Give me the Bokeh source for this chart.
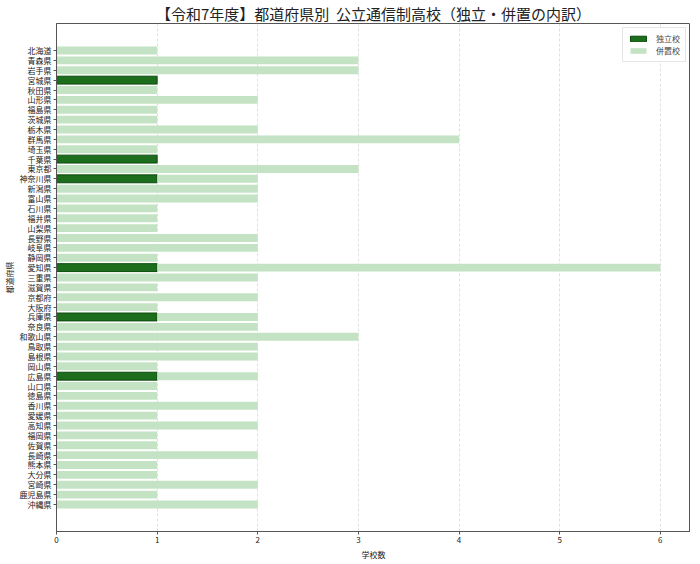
from bokeh.plotting import figure
from bokeh.models import ColumnDataSource, Range1d, FixedTicker, Legend, LegendItem
from bokeh.embed import file_html
from bokeh.resources import INLINE

prefectures = ["北海道", "青森県", "岩手県", "宮城県", "秋田県", "山形県", "福島県", "茨城県", "栃木県", "群馬県",
               "埼玉県", "千葉県", "東京都", "神奈川県", "新潟県", "富山県", "石川県", "福井県", "山梨県", "長野県",
               "岐阜県", "静岡県", "愛知県", "三重県", "滋賀県", "京都府", "大阪府", "兵庫県", "奈良県", "和歌山県",
               "鳥取県", "島根県", "岡山県", "広島県", "山口県", "徳島県", "香川県", "愛媛県", "高知県", "福岡県",
               "佐賀県", "長崎県", "熊本県", "大分県", "宮崎県", "鹿児島県", "沖縄県"]
independent = [0, 0, 0, 1, 0, 0, 0, 0, 0, 0,
               0, 1, 0, 1, 0, 0, 0, 0, 0, 0,
               0, 0, 1, 0, 0, 0, 0, 1, 0, 0,
               0, 0, 0, 1, 0, 0, 0, 0, 0, 0,
               0, 0, 0, 0, 0, 0, 0]
combined = [1, 3, 3, 0, 1, 2, 1, 1, 2, 4,
            1, 0, 3, 1, 2, 2, 1, 1, 1, 2,
            2, 1, 5, 2, 1, 2, 1, 1, 2, 3,
            2, 2, 1, 1, 1, 1, 2, 1, 2, 1,
            1, 2, 1, 1, 2, 1, 2]
x_ticks = [0, 1, 2, 3, 4, 5, 6]
title_text = "【令和7年度】都道府県別\u00a0\u00a0公立通信制高校（独立・併置の内訳）"

FONT = "Noto Sans CJK JP"
n = len(prefectures)
ys = list(range(n))

dark_idx = [i for i in ys if independent[i] > 0]
dark_src = ColumnDataSource(dict(y=[ys[i] for i in dark_idx],
                                 left=[0] * len(dark_idx),
                                 right=[independent[i] for i in dark_idx]))
light_idx = [i for i in ys if combined[i] > 0]
light_src = ColumnDataSource(dict(y=[ys[i] for i in light_idx],
                                  left=[independent[i] for i in light_idx],
                                  right=[independent[i] + combined[i] for i in light_idx]))

FW, FH = 634, 508
p = figure(frame_width=FW, frame_height=FH, output_backend="svg", toolbar_location=None,
           x_range=Range1d(0, 6.3), y_range=Range1d(n - 1 + 2.74, -2.74),
           min_border_left=50, min_border_right=0, min_border_top=0, min_border_bottom=0)

p.title.text = title_text
p.title.align = "center"
p.title.text_font = FONT
p.title.text_font_size = "15px"
p.title.text_font_style = "normal"
p.title.text_color = "#222222"
p.title.offset = 0
p.title.standoff = 0

r_dark = p.hbar(y="y", left="left", right="right", height=0.8, source=dark_src,
                fill_color="#1c6e1c", line_color="#0d4a0d", line_width=1)
r_light = p.hbar(y="y", left="left", right="right", height=0.8, source=light_src,
                 fill_color="#c4e3c4", line_color=None)

p.xaxis.ticker = FixedTicker(ticks=x_ticks)
p.yaxis.ticker = FixedTicker(ticks=ys)
p.yaxis.major_label_overrides = {i: prefectures[i] for i in ys}
p.xaxis.axis_label = "学校数"
p.yaxis.axis_label = "都道府県"
for ax in (p.xaxis, p.yaxis):
    ax.axis_label_text_font = FONT
    ax.axis_label_text_font_size = "8px"
    ax.axis_label_text_font_style = "normal"
    ax.axis_label_text_color = "#222222"
    ax.major_label_text_font = FONT
    ax.major_label_text_font_size = "8px"
    ax.major_label_text_color = "#222222"
    ax.axis_line_color = "#555555"
    ax.major_tick_line_color = "#555555"
    ax.major_tick_out = 3
    ax.major_tick_in = 0
    ax.minor_tick_line_color = None
    ax.major_label_standoff = 2
    ax.axis_label_standoff = 3
p.yaxis.axis_label_standoff = 2

p.ygrid.grid_line_color = None
p.xgrid.grid_line_color = "#cccccc"
p.xgrid.grid_line_dash = "3 2"
p.xgrid.grid_line_alpha = 0.6
p.outline_line_color = "#555555"

legend = Legend(items=[LegendItem(label="独立校", renderers=[r_dark]),
                       LegendItem(label="併置校", renderers=[r_light])],
                location="top_right", label_text_font=FONT, label_text_font_size="8px",
                glyph_width=20, glyph_height=7, label_height=9, spacing=1, padding=5,
                margin=4, border_line_color="#cccccc", label_standoff=8)
p.add_layout(legend)

open("out.html", "w").write(file_html(p, INLINE))
